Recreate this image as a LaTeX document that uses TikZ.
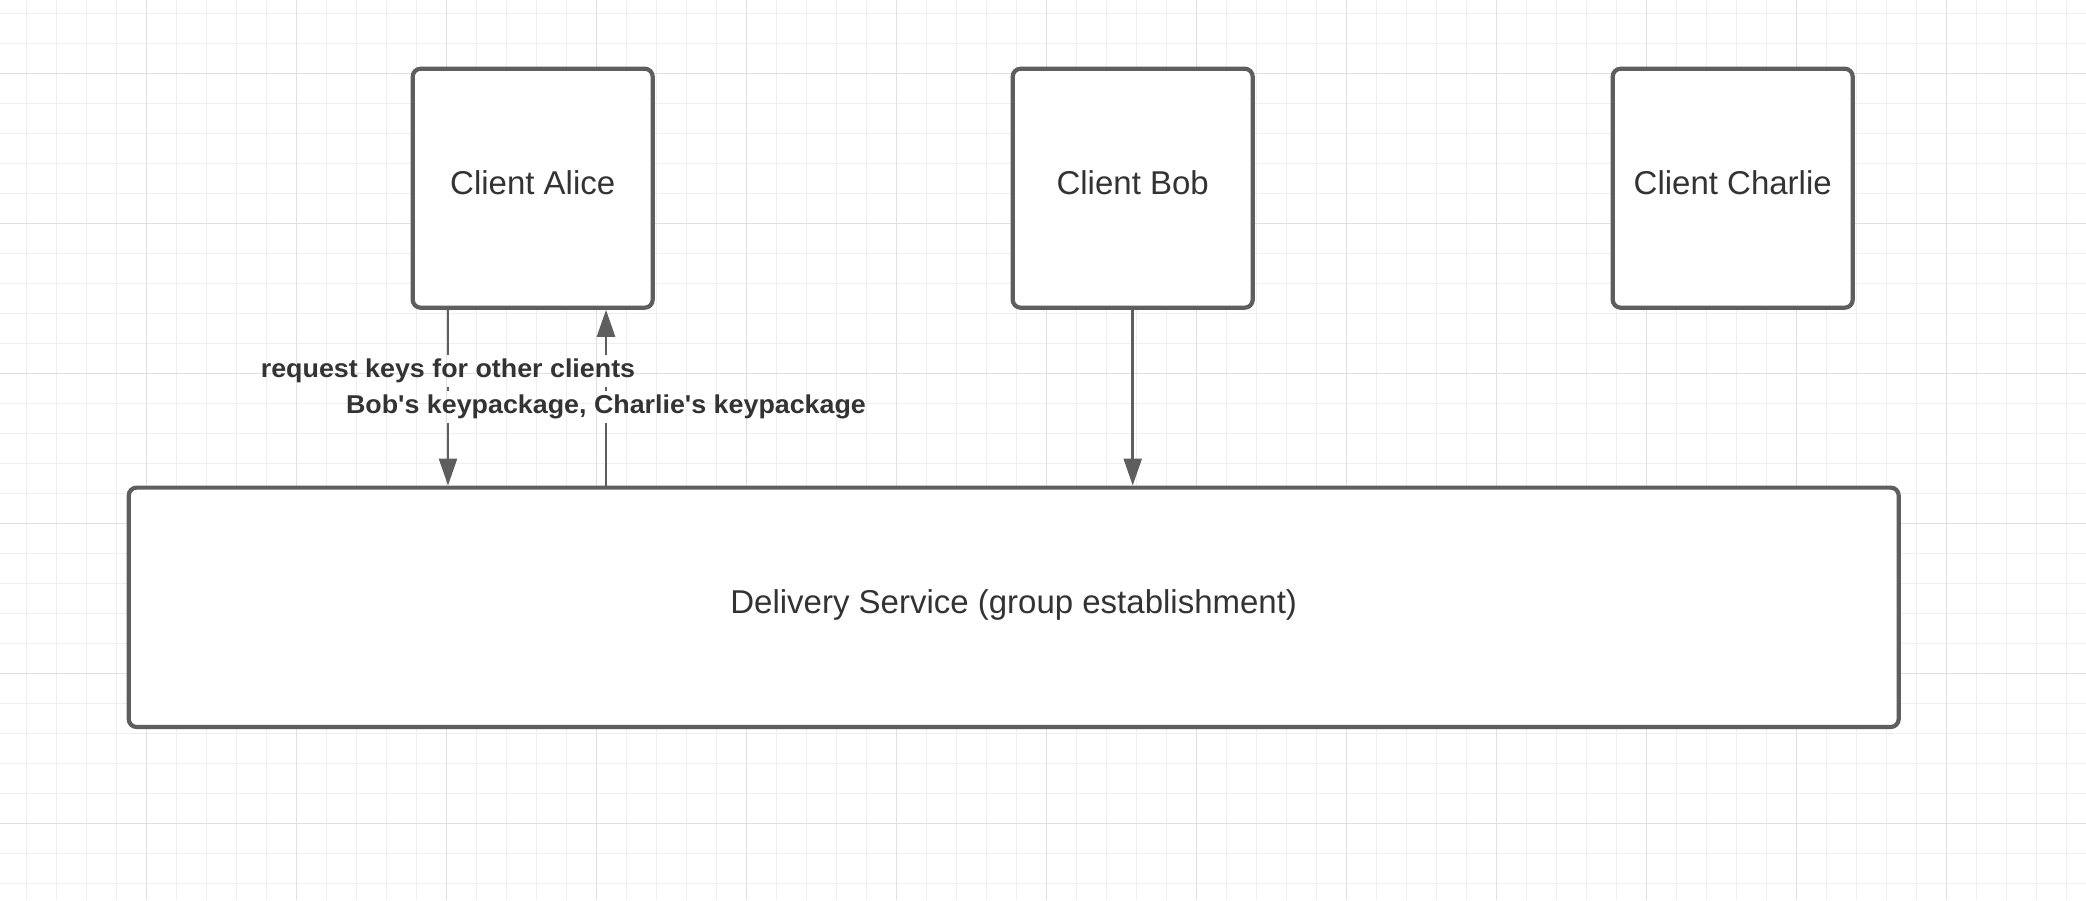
\documentclass[tikz,border=0pt]{standalone}
\usepackage{fontspec}
\setmainfont{Liberation Sans}
\newfontfamily\labfont[FakeStretch=1.04]{Liberation Sans}
\usetikzlibrary{arrows.meta}
\definecolor{strokec}{HTML}{5E5E5E}
\definecolor{txtc}{HTML}{333333}
\definecolor{gridmin}{HTML}{EFEFEF}
\definecolor{gridmaj}{HTML}{E0E0E0}
\begin{document}
\begin{tikzpicture}[x=0.5pt,y=-0.5pt,
  box/.style={draw=strokec, line width=2.1pt, fill=white, rounded corners=4pt,
    text=txtc, font=\fontsize{16.5pt}{20pt}\selectfont,
    text height=12pt, text depth=6.2pt, inner sep=0pt, align=center},
  client/.style={box, minimum width=120pt, minimum height=119.5pt},
  service/.style={box, minimum width=885pt, minimum height=119.7pt},
  lab/.style={font=\labfont\fontsize{12.9pt}{15pt}\bfseries\selectfont, text=txtc,
    inner sep=0pt, text height=11pt, text depth=5pt, anchor=base},
  conn/.style={draw=strokec, line width=1.3pt},
  tip/.style={-{Triangle[length=13.5pt,width=9pt]}},
  gmin/.style={draw=gridmin, line width=0.5pt},
  gmaj/.style={draw=gridmaj, line width=0.5pt}]
\useasboundingbox (0,0) rectangle (2086,900);
\fill[white] (0,0) rectangle (2086,900);
\begin{scope}
  \clip (0,0) rectangle (2086,900);
  \foreach \i in {0,...,69} \draw[gmin] ({26.667+30*\i},0) -- ++(0,900);
  \foreach \i in {0,...,29} \draw[gmin] (0,{13.333+30*\i}) -- ++(2086,0);
  \foreach \i in {0,...,13} \draw[gmaj] ({-3.333+150*\i},0) -- ++(0,900);
  \foreach \i in {0,...,5} \draw[gmaj] (0,{73.333+150*\i}) -- ++(2086,0);
\end{scope}

\node[client] (alice) at (532.7,188.2) {Client Alice};
\node[client] (bob) at (1132.7,188.2) {Client Bob};
\node[client] (charlie) at (1732.7,188.2) {Client Charlie};
\node[service] (ds) at (1013.7,607.3) {Delivery Service (group establishment)};

\node[lab] (req) at (448,377) {request keys for other clients};
\node[lab] (kp) at (606,413) {Bob's keypackage, Charlie's keypackage};

% Alice -> Delivery Service (request)
\draw[conn] (alice.south -| req.north) -- (req.north);
\draw[conn] (req.south) -- (kp.north -| req.south);
\draw[conn,tip] (kp.south -| req.south) -- (ds.north -| req.south);

% Delivery Service -> Alice (keypackages)
\draw[conn] (ds.north -| kp.south) -- (kp.south);
\draw[conn] (kp.north) -- (req.south -| kp.north);
\draw[conn,tip] (req.north -| kp.north) -- (alice.south -| kp.north);

% Bob -> Delivery Service
\draw[conn,tip] (bob.south) -- (bob.south |- ds.north);
\end{tikzpicture}
\end{document}
